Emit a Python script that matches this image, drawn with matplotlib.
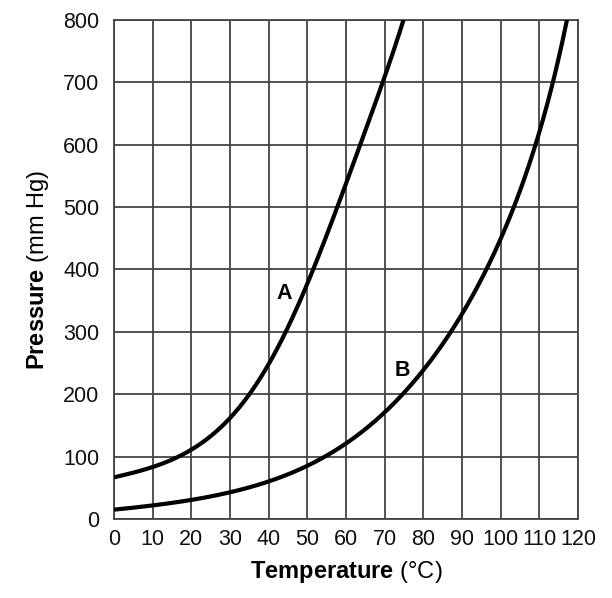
import matplotlib
matplotlib.use("Agg")
import matplotlib.pyplot as plt
import numpy as np

plt.rcParams['font.family'] = ['Liberation Sans', 'DejaVu Sans']
plt.rcParams['mathtext.fontset'] = 'custom'
plt.rcParams['mathtext.rm'] = 'Liberation Sans'
plt.rcParams['mathtext.bf'] = 'Liberation Sans:bold'

temp_a = [0, 10, 20, 30, 35, 40, 44.5, 50.6, 57.9, 64.1, 69.4, 74.8]
pres_a = [67, 82, 114, 161, 200, 242, 300, 400, 500, 600, 700, 800]

temp_b = [0, 10, 20, 30, 40, 50, 55, 60, 70, 74.7, 80, 86.4, 90, 96.1, 100, 103.2, 109.4, 113.9, 116.7]
pres_b = [15, 22, 30, 43, 61, 86, 100, 123, 167, 200, 235, 300, 334, 400, 443, 500, 600, 700, 800]

xticks = list(range(0, 121, 10))
yticks = list(range(0, 801, 100))

fig = plt.figure(figsize=(6.12, 5.98), dpi=100)
ax = fig.add_axes([0.1863, 0.1321, 0.7581, 0.8345])

def smooth(x, y, deg=5):
    # least-squares smooth curve through the read points (log space), for drawing only
    x = np.asarray(x, float); y = np.asarray(y, float)
    c = np.polyfit(x, np.log(y), deg)
    xs = np.linspace(x[0], x[-1] + 1.5, 600)
    return xs, np.exp(np.polyval(c, xs))

ax.plot(*smooth(temp_a, pres_a), color='black', lw=3, solid_capstyle='butt', zorder=3)
ax.plot(*smooth(temp_b, pres_b), color='black', lw=3, solid_capstyle='butt', zorder=3)

ax.set_xlim(0, 120)
ax.set_ylim(0, 800)
ax.set_xticks(xticks)
ax.set_yticks(yticks)
ax.grid(True, color='#444444', lw=1.3, zorder=1)
for s in ax.spines.values():
    s.set_color('#444444'); s.set_linewidth(1.3)
ax.tick_params(length=0, labelsize=15.5, colors='#111111')
ax.tick_params(axis='x', pad=7.5)
ax.tick_params(axis='y', pad=10.5)

ax.text(44, 362, 'A', fontsize=15.5, fontweight='bold', ha='center', va='center')
ax.text(74.6, 238, 'B', fontsize=15.5, fontweight='bold', ha='center', va='center')

ax.set_xlabel(r'$\mathbf{Temperature}$ ($\mathrm{°C}$)', fontsize=17, labelpad=6)
ax.set_ylabel(r'$\mathbf{Pressure}$ (mm Hg)', fontsize=17, labelpad=9)

fig.savefig('out.png', dpi=100)
